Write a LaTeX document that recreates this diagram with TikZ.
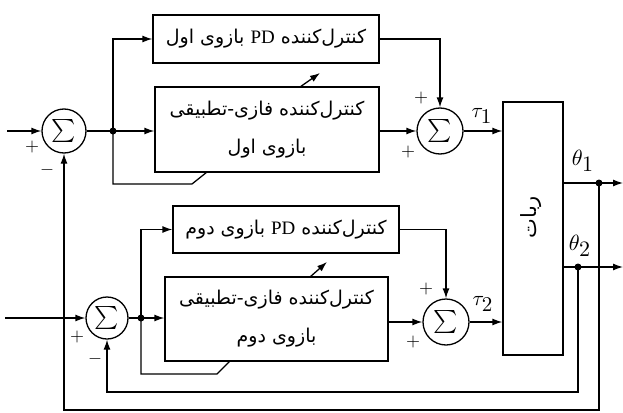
\documentclass[tikz,border=0pt]{standalone}
\usepackage{fontspec}
\usetikzlibrary{arrows.meta}
\TeXXeTstate=1
\newfontfamily\arabicfont[Script=Arabic]{DejaVu Sans}
\newfontfamily\latinserif{Liberation Serif}
\newcommand{\sumsym}{\scalebox{2.3}{$\sum$}}
\newcommand{\sgnsym}[1]{\scalebox{1.8}{$#1$}}
\begin{document}
\begin{tikzpicture}[x=1pt,y=-1pt,line width=1.3pt,
  >={Latex[length=10pt,width=7pt]},
  sumnode/.style={circle,draw,minimum size=44pt,inner sep=0pt},
  blk/.style={draw,inner sep=0pt,font=\arabicfont\fontsize{19}{38}\selectfont,align=center},
  dot/.style={circle,fill,inner sep=0pt,minimum size=7pt},
  sgn/.style={inner sep=0pt},
  lbl/.style={inner sep=0pt}]
\useasboundingbox (0,0) rectangle (623,412);
% row 1
\node[sumnode] (s1) at (64,131) {\sumsym};
\node[blk,minimum width=226pt,minimum height=48pt] (pd1) at (266,39)
  {\beginR کنترل‌کننده \beginL{\latinserif PD}\endL{} بازوی اول\endR};
\node[blk,minimum width=224pt,minimum height=85pt] (ph1) at (267,129.5)
  {\beginR کنترل‌کننده فازی-تطبیقی\endR\\\beginR بازوی اول\endR};
\node[sumnode,minimum size=46pt] (s2) at (440,131) {\sumsym};
% robot
\node[draw,minimum width=60pt,minimum height=253pt,inner sep=0pt] (rob) at (533,228.5) {};
\node[rotate=90,font=\arabicfont\fontsize{21}{24}\selectfont,inner sep=0pt] (robt) at (531,217) {\beginR ربات\endR};
% row 2
\node[sumnode,minimum size=42pt] (s3) at (107,318) {\sumsym};
\node[blk,minimum width=226pt,minimum height=47pt] (pd2) at (286,229.5)
  {\beginR کنترل‌کننده \beginL{\latinserif PD}\endL{} بازوی دوم\endR};
\node[blk,minimum width=223pt,minimum height=84pt] (ph2) at (276.5,319)
  {\beginR کنترل‌کننده فازی-تطبیقی\endR\\\beginR بازوی دوم\endR};
\node[sumnode,minimum size=46pt] (s4) at (446,322) {\sumsym};
% coordinates
\coordinate (in1) at (7,131);
\coordinate (in2) at (5,318);
\node[dot] (j1) at (113,131) {};
\node[dot] (j2) at (141,318) {};
\node[dot] (d1) at (599,183) {};
\node[dot] (d2) at (578,267) {};
\coordinate (o1) at (623,183);
\coordinate (o2) at (623,267);
\coordinate (a1) at (113,184);
\coordinate (b1) at (192,184);
\coordinate (c1) at (207,172);
\coordinate (a2) at (141,374);
\coordinate (b2) at (217,374);
\coordinate (c2) at (230,361);
\coordinate (f1) at (599,410);
\coordinate (f2) at (578,392);
\coordinate (ad1s) at (300,87);
\coordinate (ad1e) at (320,73);
\coordinate (ad2s) at (310,277);
\coordinate (ad2e) at (327,262);
% row 1 connectors
\draw[->] (in1) -- (s1.west);
\draw (s1.east) -- (j1.center);
\draw[->] (j1.center) -- (ph1.west |- j1);
\draw[->] (j1.center) |- (pd1.west);
\draw (j1.center) -- (a1) -- (b1) -- (c1);
\draw[->] (ph1.east |- s2) -- (s2.west);
\draw[->] (pd1.east) -| (s2.north);
\draw[->] (s2.east) -- (rob.west |- s2);
\draw[->] (ad1s) -- (ad1e);
% row 2 connectors
\draw[->] (in2) -- (s3.west);
\draw (s3.east) -- (j2.center);
\draw[->] (j2.center) -- (ph2.west |- j2);
\draw[->] (j2.center) |- (pd2.west);
\draw (j2.center) -- (a2) -- (b2) -- (c2);
\draw[->] (ph2.east |- s4) -- (s4.west);
\draw[->] (pd2.east) -| (s4.north);
\draw[->] (s4.east) -- (rob.west |- s4);
\draw[->] (ad2s) -- (ad2e);
% outputs and feedback
\draw[->] (rob.east |- d1) -- (o1);
\draw[->] (rob.east |- d2) -- (o2);
\draw[->] (d1.center) -- (f1) -| (s1.south);
\draw[->] (d2.center) -- (f2) -| (s3.south);
% labels
\node[lbl] (t1) at (482,116) {\scalebox{2.1}{$\tau_{\textstyle 1}$}};
\node[lbl] (t2) at (483,304) {\scalebox{2.1}{$\tau_{\textstyle 2}$}};
\node[lbl] (th1) at (583,161) {\scalebox{2.2}{$\theta_{\textstyle 1}$}};
\node[lbl] (th2) at (580,246) {\scalebox{2.2}{$\theta_{\textstyle 2}$}};
\node[sgn] (p1) at (32,147) {\sgnsym{+}};
\node[sgn] (m1) at (47,170) {\sgnsym{-}};
\node[sgn] (p2a) at (421,98) {\sgnsym{+}};
\node[sgn] (p2b) at (408,152) {\sgnsym{+}};
\node[sgn] (p3) at (77,337) {\sgnsym{+}};
\node[sgn] (m3) at (95,359) {\sgnsym{-}};
\node[sgn] (p4a) at (426,289) {\sgnsym{+}};
\node[sgn] (p4b) at (413,342) {\sgnsym{+}};
\end{tikzpicture}
\end{document}
